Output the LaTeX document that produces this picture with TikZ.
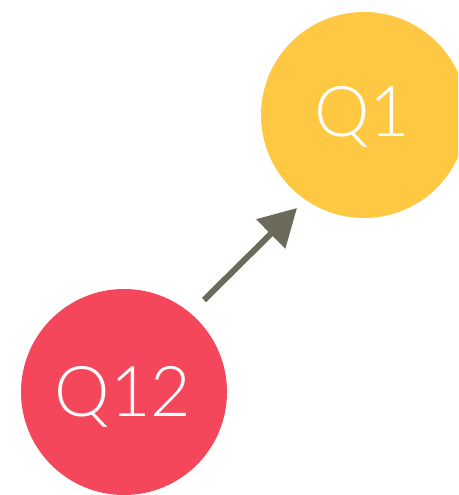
\documentclass[tikz,border=0pt]{standalone}
\usepackage{fontspec}
\setmainfont{Lato Light}
\usetikzlibrary{arrows.meta}
\definecolor{qyellow}{HTML}{FFC843}
\definecolor{qred}{HTML}{F5475B}
\definecolor{qarrow}{HTML}{6B6A5B}
\begin{document}
\begin{tikzpicture}[x=1pt,y=-1pt,
  qcircle/.style={circle,inner sep=0pt,minimum size=206pt},
  qtext/.style={text=white,font=\fontsize{70}{70}\selectfont},
  qlink/.style={draw=qarrow,line width=6pt,-{Triangle[length=37pt,width=40pt]}}]
\useasboundingbox (0,0) rectangle (458,495);
\clip (0,0) rectangle (458,495);
\node[qcircle,fill=qyellow] (q1) at (364,115) {};
\node[qcircle,fill=qred] (q12) at (124,392) {};
\node[qtext] (t1) at (362,117) {Q1};
\node[qtext] (t12) at (123,397) {Q12};
\coordinate (a) at (204,300);
\coordinate (b) at (297,208);
\draw[qlink] (a) -- (b);
\end{tikzpicture}
\end{document}
